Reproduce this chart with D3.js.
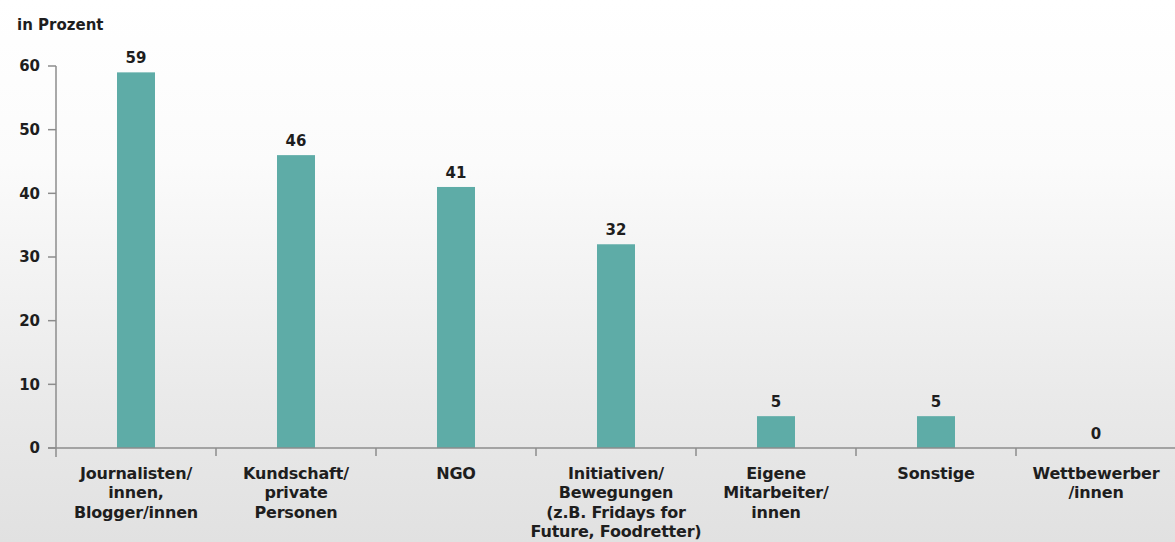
<!DOCTYPE html>
<meta charset="utf-8">
<style>
  body {
    margin: 0;
    width: 1175px;
    height: 542px;
    overflow: hidden;
    background: linear-gradient(to bottom, #ffffff 0%, #fbfbfb 30%, #e9e9e9 75%, #e1e1e1 100%);
    font-family: "DejaVu Sans", sans-serif;
  }
  text {
    font-weight: bold;
    fill: #1e1e1e;
  }
</style>
<body>
<div id="chart"></div>
<script src="https://cdn.jsdelivr.net/npm/d3@7"></script>
<script>

  // data
  var categories = [
    ["Journalisten/", "innen,", "Blogger/innen"],
    ["Kundschaft/", "private", "Personen"],
    ["NGO"],
    ["Initiativen/", "Bewegungen", "(z.B. Fridays for", "Future, Foodretter)"],
    ["Eigene", "Mitarbeiter/", "innen"],
    ["Sonstige"],
    ["Wettbewerber", "/innen"]
  ];
  var values = [59, 46, 41, 32, 5, 5, 0];
  var yTicks = [0, 10, 20, 30, 40, 50, 60];

  var width = 1175, height = 542;
  var axisColor = "#8c8c8c";

  var svg = d3.select("#chart")
    .append("svg")
    .attr("width", width)
    .attr("height", height);

  var keys = categories.map(function (d, i) { return i; });

  var x = d3.scaleBand()
    .domain(keys)
    .range([56, 1176])
    .padding(0);

  var y = d3.scaleLinear()
    .domain([0, 60])
    .range([448, 66]);

  var barWidth = 38;

  // y axis
  svg.append("line")
    .attr("x1", 56).attr("x2", 56)
    .attr("y1", y(60)).attr("y2", y(0) + 9)
    .attr("stroke", axisColor).attr("stroke-width", 1.5);

  svg.selectAll(".ytick")
    .data(yTicks)
    .enter().append("line")
    .attr("x1", 48).attr("x2", 56)
    .attr("y1", function (d) { return y(d); })
    .attr("y2", function (d) { return y(d); })
    .attr("stroke", axisColor).attr("stroke-width", 1.5);

  svg.selectAll(".ylab")
    .data(yTicks)
    .enter().append("text")
    .attr("x", 40)
    .attr("y", function (d) { return y(d); })
    .attr("dy", "0.36em")
    .attr("text-anchor", "end")
    .style("font-size", "15px")
    .text(function (d) { return d; });

  svg.append("text")
    .attr("x", 17)
    .attr("y", 30)
    .style("font-size", "15px")
    .text("in Prozent");

  // bars
  svg.selectAll(".bar")
    .data(values)
    .enter().append("rect")
    .attr("x", function (d, i) { return x(i) + x.bandwidth() / 2 - barWidth / 2; })
    .attr("y", function (d) { return y(d); })
    .attr("width", barWidth)
    .attr("height", function (d) { return y(0) - y(d); })
    .attr("fill", "#5eaca7");

  // value labels
  svg.selectAll(".val")
    .data(values)
    .enter().append("text")
    .attr("x", function (d, i) { return x(i) + x.bandwidth() / 2; })
    .attr("y", function (d) { return y(d) - 9; })
    .attr("text-anchor", "middle")
    .style("font-size", "15px")
    .text(function (d) { return d; });

  // x axis
  svg.append("line")
    .attr("x1", 48).attr("x2", width)
    .attr("y1", y(0)).attr("y2", y(0))
    .attr("stroke", axisColor).attr("stroke-width", 1.5);

  svg.selectAll(".xtick")
    .data(keys.slice(1).concat([keys.length]))
    .enter().append("line")
    .attr("x1", function (d) { return 56 + d * x.bandwidth(); })
    .attr("x2", function (d) { return 56 + d * x.bandwidth(); })
    .attr("y1", y(0)).attr("y2", y(0) + 8)
    .attr("stroke", axisColor).attr("stroke-width", 1.5);

  // category labels
  var lab = svg.selectAll(".xlab")
    .data(categories)
    .enter().append("text")
    .attr("text-anchor", "middle")
    .style("font-size", "16px")
    .style("letter-spacing", "-0.2px")
    .attr("transform", function (d, i) { return "translate(" + (x(i) + x.bandwidth() / 2) + ",479)"; });

  lab.selectAll("tspan")
    .data(function (d) { return d; })
    .enter().append("tspan")
    .attr("x", 0)
    .attr("y", function (d, j) { return j * 19.4; })
    .text(function (d) { return d; });

</script>
</body>
